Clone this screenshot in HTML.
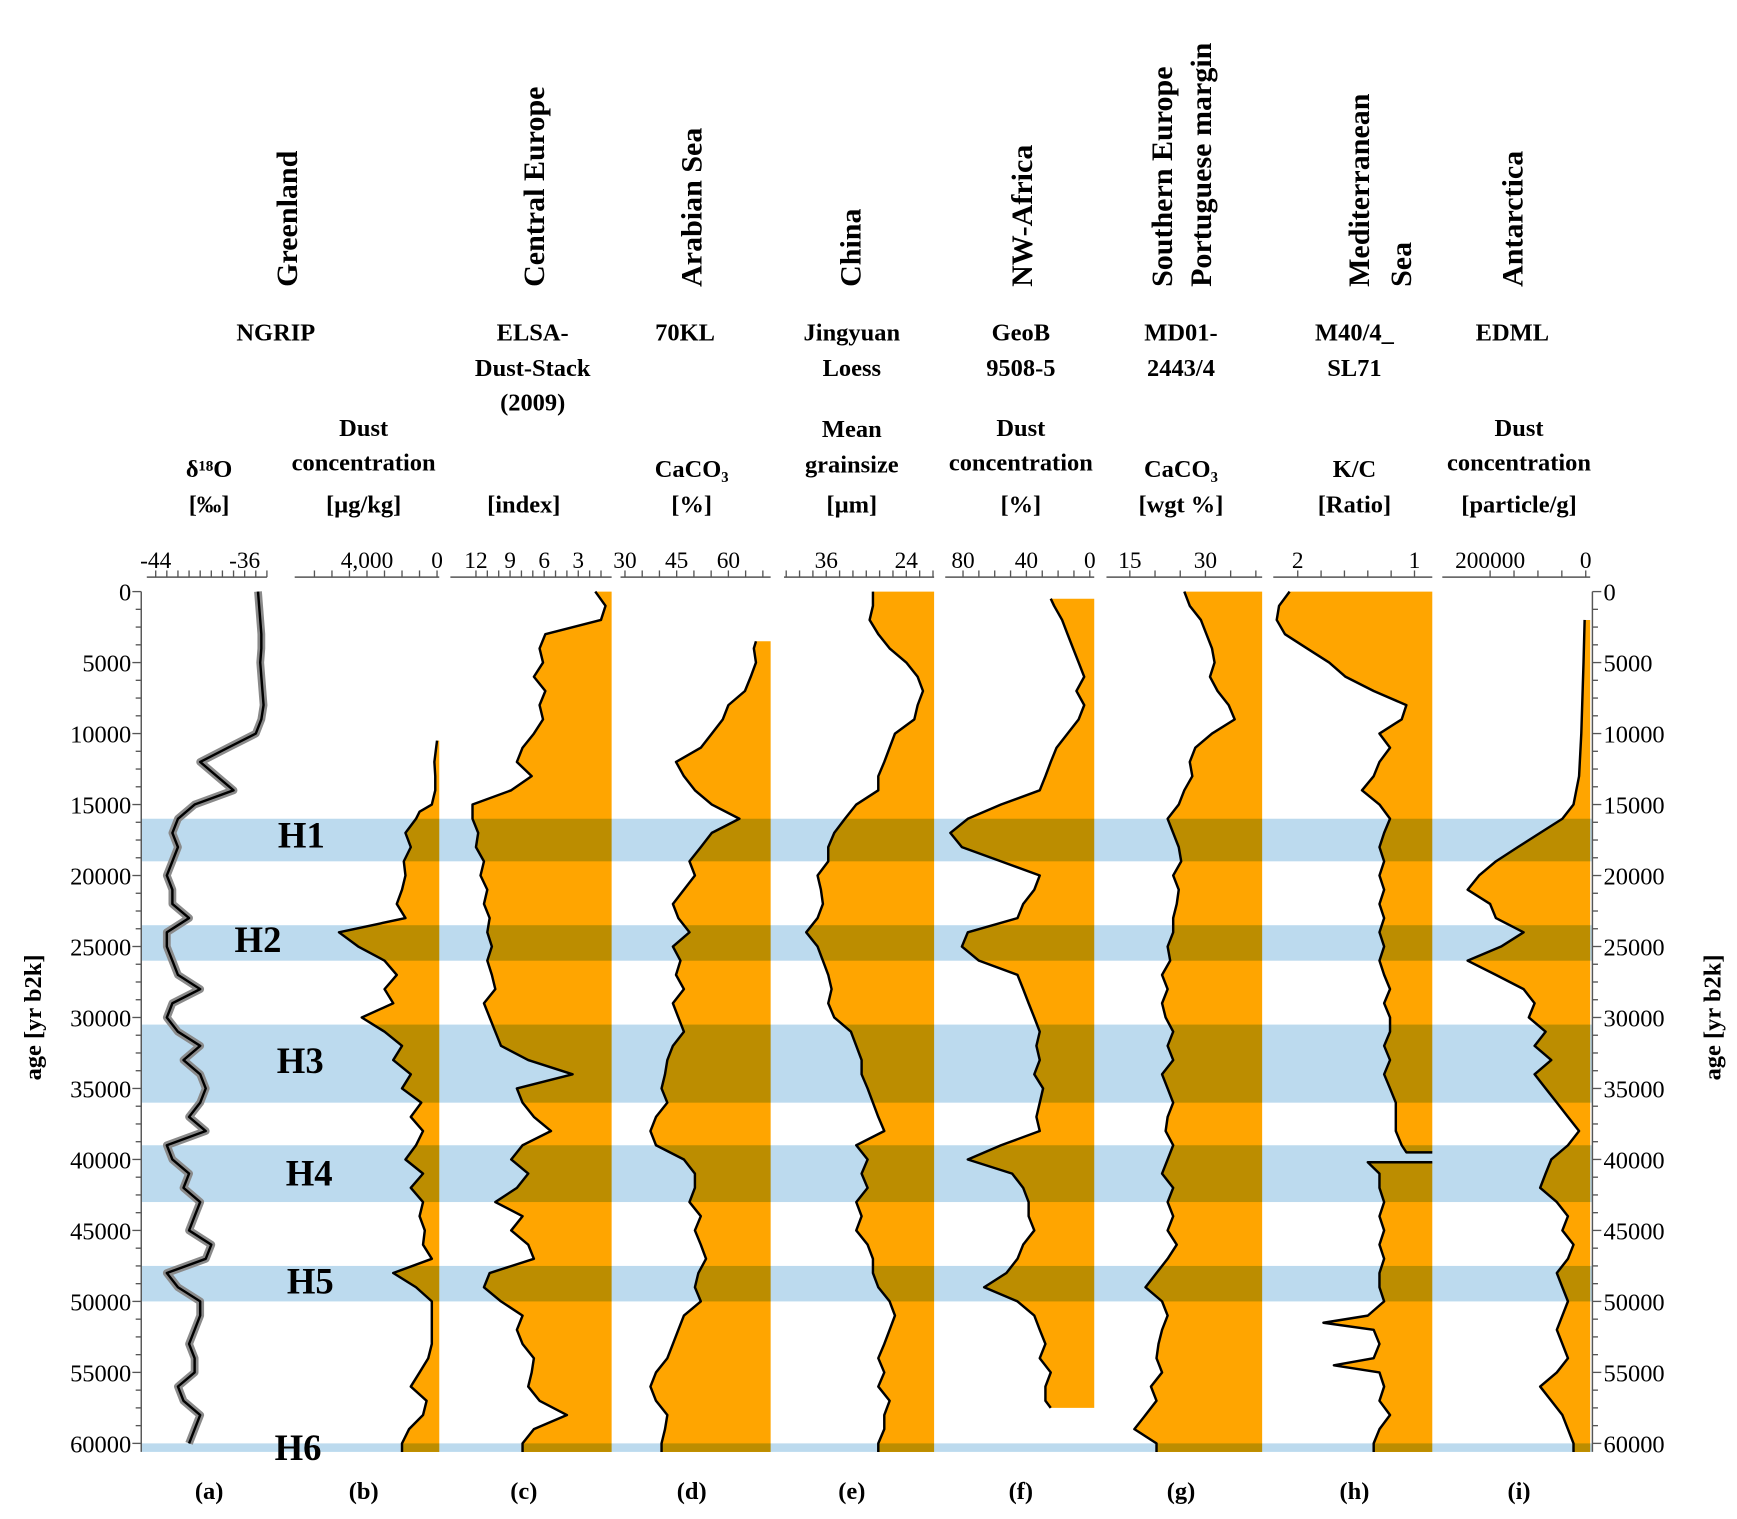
<!DOCTYPE html>
<html><head><meta charset="utf-8"><style>
html,body{margin:0;padding:0;background:#fff}
svg{display:block}
text{font-family:"Liberation Serif",serif;fill:#000}
</style></head><body>
<svg id="chart" width="1737" height="1519" viewBox="0 0 1562 1366" xmlns="http://www.w3.org/2000/svg">
<g id="fills"></g><g id="bandover" style="mix-blend-mode:multiply"></g><g id="lines"></g><g id="axes"></g><g id="labels"></g>
</svg>
<script>
const ages = [0,1000,2000,3000,4000,5000,6000,7000,8000,9000,10000,11000,12000,13000,14000,15000,16000,17000,18000,19000,20000,21000,22000,23000,24000,25000,26000,27000,28000,29000,30000,31000,32000,33000,34000,35000,36000,37000,38000,39000,40000,41000,42000,43000,44000,45000,46000,47000,48000,49000,50000,51000,52000,53000,54000,55000,56000,57000,58000,59000,60000];
const d18O = [-34.8,-34.7,-34.6,-34.5,-34.5,-34.6,-34.5,-34.4,-34.3,-34.5,-35,-37.5,-40,-38.5,-37,-40.5,-42,-42.5,-42,-42.5,-43,-42.5,-42.5,-41,-43,-43,-42.5,-42,-40,-42.5,-43,-42,-40,-41.5,-40,-39.5,-40,-41,-39.5,-43,-42.5,-41,-41.5,-40,-40.5,-41,-39,-39.5,-43,-42,-40,-40,-40.5,-41,-40.5,-40.5,-42,-41.5,-40,-40.5,-41];
const dustAges = [10500,11000,12000,13000,14000,15000,15500,16000,17000,18000,19000,20000,21000,22000,23000,24000,25000,26000,27000,28000,29000,30000,31000,32000,33000,34000,35000,36000,37000,38000,39000,40000,41000,42000,43000,44000,45000,46000,47000,48000,49000,50000,51000,52000,53000,54000,55000,56000,57000,58000,59000,60000];
const dustNGRIP = [0,50,150,100,100,300,1000,1200,1800,1500,1900,1800,2000,2300,1800,5600,4500,3000,2300,3000,2500,4300,3000,2000,2500,1500,2000,900,1500,800,1200,1800,800,1500,800,1000,700,800,300,2500,1200,300,300,300,300,500,1000,1500,600,800,1600,2000];
const elsaIndex = [1.5,0.6,1.0,5.9,6.4,6.1,6.9,5.9,6.4,6.1,6.9,7.9,8.4,7.1,8.9,12.3,12.3,11.8,12,11.3,11.6,11.0,11.3,10.8,11.0,10.6,11.0,10.6,10.3,11.3,10.8,10.3,9.8,7.4,3.5,8.4,7.9,6.9,5.4,7.9,8.9,7.4,8.4,10.3,7.9,8.9,7.4,6.9,10.8,11.3,9.8,7.9,8.4,7.9,6.9,7.1,7.4,6.4,4.0,6.9,7.9];
const caAges = [3500,4000,5000,6000,7000,8000,9000,10000,11000,12000,13000,14000,15000,16000,17000,18000,19000,20000,21000,22000,23000,24000,25000,26000,27000,28000,29000,30000,31000,32000,33000,34000,35000,36000,37000,38000,39000,40000,41000,42000,43000,44000,45000,46000,47000,48000,49000,50000,51000,52000,53000,54000,55000,56000,57000,58000,59000,60000];
const caco3Arabian = [68,67.4,68,66.5,64.8,60,58.4,55.2,52,44.8,47.1,50.3,55.2,63.2,55.2,52,48.7,50.3,47.1,43.9,45.5,48.7,43.9,46.1,44.8,47.1,43.9,45.5,47.1,43.9,42.3,41.6,40.6,42.3,39,37.4,39,47.1,50.3,50.3,48.7,52,50.3,52,53.5,51.3,50.3,52,47.1,45.5,43.9,42.3,39,37.4,39,42.3,41.6,40.6];
const grainsize = [29,29,29.5,28.2,26.5,24,22.3,21.5,22.3,22.8,25.7,26.5,27.3,28.2,28.2,31.5,33.2,34.8,35.7,35.7,37.3,36.8,36.5,37.3,39,37.3,36.5,35.7,35.2,35.7,34.8,32.3,31.5,30.7,30.7,29.8,29,28.2,27.3,31.5,29.8,30.7,29.8,31.5,30.7,31.5,29.8,29,29,28.2,26.5,25.7,26.5,27.3,28.2,27.3,28.2,26.5,27.3,27.3,28.2];
const africaAges = [500,1000,2000,3000,4000,5000,6000,7000,8000,9000,10000,11000,12000,13000,14000,15000,16000,17000,18000,19000,20000,21000,22000,23000,24000,25000,26000,27000,28000,29000,30000,31000,32000,33000,34000,35000,36000,37000,38000,39000,40000,41000,42000,43000,44000,45000,46000,47000,48000,49000,50000,51000,52000,53000,54000,55000,56000,57000,57500];
const dustAfrica = [24.6,22.5,17.5,14,10.5,7,3.5,8.4,3.5,7,14,21,24.6,28,31.6,56,77,88,80.7,56,31.6,35,42,45.6,77,80.7,70,45.6,42,38.6,35,31.6,33.7,31.6,35,29.5,31.6,33.7,31.6,56,77,49,42,38.6,38.6,35,42,45.6,52.6,66.7,45.6,35,31.6,28,31.6,24.6,28,28,24.6];
const caco3Portugal = [25.8,26.9,29.1,30.2,31.3,31.8,30.9,32.4,34.6,35.8,31.3,28,26.9,27.4,25.8,24.7,22.5,23.6,24.7,25.2,23.6,24.7,24.3,23.6,23.6,22.5,23,21.4,22.5,21.4,22.1,23.6,22.5,23.6,21.4,22.5,23.6,22.5,22.1,23.6,22.5,21.4,23.6,22.5,23.6,22.5,24.3,22.5,20.3,18.1,21.4,22.5,21.4,20.7,20.3,21.4,19.2,20.3,18.1,15.9,20.3];
const kcAges1 = [0,1000,2000,3000,4000,5000,6000,7000,8000,9000,10000,11000,12000,13000,14000,15000,16000,17000,18000,19000,20000,21000,22000,23000,24000,25000,26000,27000,28000,29000,30000,31000,32000,33000,34000,35000,36000,37000,38000,39000,39500];
const kcRatio1 = [2.07,2.16,2.18,2.11,1.92,1.73,1.59,1.35,1.07,1.11,1.3,1.21,1.3,1.35,1.45,1.3,1.21,1.26,1.3,1.26,1.3,1.26,1.3,1.26,1.3,1.26,1.3,1.26,1.21,1.26,1.21,1.21,1.26,1.21,1.26,1.21,1.16,1.16,1.16,1.11,1.07];
const kcAges2 = [40200,41000,42000,43000,44000,45000,46000,47000,48000,49000,50000,51000,51500,52000,53000,54000,54500,55000,56000,57000,58000,59000,60000];
const kcRatio2 = [1.4,1.3,1.3,1.26,1.3,1.26,1.3,1.26,1.3,1.3,1.26,1.4,1.78,1.35,1.3,1.35,1.69,1.3,1.26,1.3,1.21,1.3,1.35];
const edmlAges = [2000,5000,10000,13000,15000,16000,17000,18000,19000,20000,21000,22000,23000,24000,25000,26000,27000,28000,29000,30000,31000,32000,33000,34000,35000,36000,37000,38000,39000,40000,41000,42000,43000,44000,45000,46000,47000,48000,49000,50000,51000,52000,53000,54000,55000,56000,57000,58000,59000,60000];
const dustEDML = [2.3,4.7,9.3,14,25.6,48.8,95.4,142,188,223,247,200,188,130,177,247,188,130,107,119,84,107,72,107,84,60.5,37.2,14,37.2,72,84,95.4,60.5,37.2,48.8,25.6,37.2,60.5,48.8,37.2,48.8,60.5,48.8,37.2,60.5,95.4,72,48.8,37.2,25.6];
const bandStart = [16000,23500,30500,39000,47500,60000];
const bandEnd = [19000,26000,36000,43000,50000,60600];
const bandLabels = ["H1","H2","H3","H4","H5","H6"];
const ageTicks = [0,5000,10000,15000,20000,25000,30000,35000,40000,45000,50000,55000,60000];

const NS="http://www.w3.org/2000/svg";
const Y = a => 532 + a*766/60000;
const YB = Y(60600);
function lin(d0,r0,d1,r1){return v=>r0+(v-d0)*(r1-r0)/(d1-d0);}
function mk(tag,attrs,parent){const e=document.createElementNS(NS,tag);for(const k in attrs)e.setAttribute(k,attrs[k]);parent.appendChild(e);return e;}
const G=id=>document.getElementById(id);

bandStart.forEach((s,i)=>{
  const r2=mk('rect',{x:127,y:Y(s),width:1305,height:Y(bandEnd[i])-Y(s),fill:'#bcdaee'},G('bandover'));
  
  
});

const panels=[
 {n:'a',ag:ages,v:d18O,x:lin(-44,140,-36,220),R:null},
 {n:'b',ag:dustAges,v:dustNGRIP,x:lin(0,393,4000,330),R:395},
 {n:'c',ag:ages,v:elsaIndex,x:lin(12,428,3,520),R:550},
 {n:'d',ag:caAges,v:caco3Arabian,x:lin(30,562,60,655),R:693},
 {n:'e',ag:ages,v:grainsize,x:lin(36,743,24,815),R:840},
 {n:'f',ag:africaAges,v:dustAfrica,x:lin(80,866,0,980),R:984,noext:true},
 {n:'g',ag:ages,v:caco3Portugal,x:lin(15,1016,30,1084),R:1135},
 {n:'h',ag:kcAges1,v:kcRatio1,x:lin(2,1167,1,1272),R:1288,noext:true,closeEnd:true},
 {n:'h2',ag:kcAges2,v:kcRatio2,x:lin(2,1167,1,1272),R:1288,openStart:true},
 {n:'i',ag:edmlAges,v:dustEDML,x:lin(200,1340,0,1426),R:1430},
];
panels.forEach(p=>{
  let pts=p.ag.map((a,i)=>[p.x(p.v[i]),Y(a)]);
  if(!p.noext && p.R!==null){pts.push([pts[pts.length-1][0],YB]);}
  if(p.closeEnd){pts.push([p.R,pts[pts.length-1][1]]);}
  if(p.openStart){pts.unshift([p.R,pts[0][1]]);}
  const ps=pts.map(q=>q[0].toFixed(1)+','+q[1].toFixed(1)).join(' ');
  if(p.R!==null){
    const poly=[...pts,[p.R,pts[pts.length-1][1]],[p.R,pts[0][1]]];
    const f=mk('polygon',{points:poly.map(q=>q[0].toFixed(1)+','+q[1].toFixed(1)).join(' '),fill:'#ffa500'},G('fills'));
    
    
  } else {
    const g=mk('polyline',{points:ps,fill:'none',stroke:'#8a8a8a','stroke-width':7,'stroke-linejoin':'round'},G('lines'));
    
    
  }
  const l=mk('polyline',{points:ps,fill:'none',stroke:'#000','stroke-width':2.2,'stroke-linejoin':'round'},G('lines'));
  
  
});

const topAxes=[
 {n:'a',l:132,r:240,x:lin(-44,140,-36,220),maj:[-44,-36],lab:['-44','-36'],mn:[-44,-43,-42,-41,-40,-39,-38,-37,-36,-35,-34]},
 {n:'b',l:265,r:395,x:lin(0,393,4000,330),maj:[4000,0],lab:['4,000','0'],mn:[0,1000,2000,3000,4000,5000,6000,7000]},
 {n:'c',l:405,r:550,x:lin(12,428,3,520),maj:[12,9,6,3],lab:['12','9','6','3'],mn:[12,11,10,9,8,7,6,5,4,3,2,1]},
 {n:'d',l:558,r:693,x:lin(30,562,60,655),maj:[30,45,60],lab:['30','45','60'],mn:[30,35,40,45,50,55,60,65,70]},
 {n:'e',l:705,r:840,x:lin(36,743,24,815),maj:[36,24],lab:['36','24'],mn:[42,40,38,36,34,32,30,28,26,24,22,20]},
 {n:'f',l:850,r:984,x:lin(80,866,0,980),maj:[80,40,0],lab:['80','40','0'],mn:[80,70,60,50,40,30,20,10,0]},
 {n:'g',l:995,r:1135,x:lin(15,1016,30,1084),maj:[15,30],lab:['15','30'],mn:[15,20,25,30,35,40,45]},
 {n:'h',l:1145,r:1288,x:lin(2,1167,1,1272),maj:[2,1],lab:['2','1'],mn:[2,1.8,1.6,1.4,1.2,1]},
 {n:'i',l:1297,r:1430,x:lin(200,1340,0,1426),maj:[200,0],lab:['200000','0'],mn:[200,150,100,50,0]},
];
topAxes.forEach(t=>{
  const ax=mk('line',{x1:t.l,x2:t.r,y1:519,y2:519,stroke:'#555','stroke-width':1.3},G('axes'));
  
  
  t.mn.forEach(v=>{const x=t.x(v);if(x<t.l-1||x>t.r+1)return;mk('line',{x1:x,x2:x,y1:519,y2:513,stroke:'#555','stroke-width':1.2},G('axes'));});
  t.maj.forEach((v,i)=>{
    const tx=mk('text',{x:t.x(v),y:511,'text-anchor':'middle','font-size':21},G('axes'));
    tx.textContent=t.lab[i];
    
    
  });
});
[[127,-1],[1432,1]].forEach(([ax,dir],k)=>{
  const l=mk('line',{x1:ax,x2:ax,y1:532,y2:YB,stroke:'#555','stroke-width':1.3},G('axes'));
  
  
  for(let a=0;a<=60000;a+=1250){mk('line',{x1:ax,x2:ax+dir*(a%5000===0?8:5),y1:Y(a),y2:Y(a),stroke:'#555','stroke-width':1.2},G('axes'));}
  ageTicks.forEach(a=>{
    const t=mk('text',{x:k?1442:118,y:Y(a)+8,'text-anchor':k?'start':'end','font-size':22},G('axes'));
    t.textContent=a;
    
    
  });
});
bandStart.forEach((s,i)=>{
  const pos=[[271,762],[232,856],[270,965],[278,1066],[279,1163],[268,1313]][i];
  const t=mk('text',{x:pos[0],y:pos[1],'text-anchor':'middle','font-size':33,'font-weight':'bold'},G('labels'));
  t.textContent=bandLabels[i];
  
  
});
</script>
<svg style="position:absolute;left:0;top:0" width="1737" height="1519" viewBox="0 0 1562 1366">
<g font-weight="bold" font-size="27" font-family="Liberation Serif, serif">
<text transform="translate(267,258) rotate(-90)">Greenland</text>
<text transform="translate(489,258) rotate(-90)">Central Europe</text>
<text transform="translate(631,258) rotate(-90)">Arabian Sea</text>
<text transform="translate(774,258) rotate(-90)">China</text>
<text transform="translate(928,258) rotate(-90)">NW-Africa</text>
<text transform="translate(1054,258) rotate(-90)">Southern Europe</text>
<text transform="translate(1089,258) rotate(-90)">Portuguese margin</text>
<text transform="translate(1231,258) rotate(-90)">Mediterranean</text>
<text transform="translate(1269,258) rotate(-90)">Sea</text>
<text transform="translate(1369,258) rotate(-90)">Antarctica</text>
</g>
<g font-weight="bold" font-size="22" font-family="Liberation Serif, serif" text-anchor="middle">
<text x="248" y="306">NGRIP</text>
<text x="479" y="306">ELSA-</text>
<text x="479" y="338">Dust-Stack</text><text x="479" y="369">(2009)</text>
<text x="616" y="306">70KL</text>
<text x="766" y="306">Jingyuan</text><text x="766" y="338">Loess</text>
<text x="918" y="306">GeoB</text><text x="918" y="338">9508-5</text>
<text x="1062" y="306">MD01-</text><text x="1062" y="338">2443/4</text>
<text x="1218" y="306">M40/4_</text><text x="1218" y="338">SL71</text>
<text x="1360" y="306">EDML</text>
<text x="188" y="429">δ¹⁸O</text><text x="188" y="461">[‰]</text>
<text x="327" y="392">Dust</text><text x="327" y="423">concentration</text><text x="327" y="461">[µg/kg]</text>
<text x="471" y="461">[index]</text>
<text x="622" y="429">CaCO₃</text><text x="622" y="461">[%]</text>
<text x="766" y="393">Mean</text><text x="766" y="425">grainsize</text><text x="766" y="461">[µm]</text>
<text x="918" y="392">Dust</text><text x="918" y="423">concentration</text><text x="918" y="461">[%]</text>
<text x="1062" y="429">CaCO₃</text><text x="1062" y="461">[wgt %]</text>
<text x="1218" y="429">K/C</text><text x="1218" y="461">[Ratio]</text>
<text x="1366" y="392">Dust</text><text x="1366" y="423">concentration</text><text x="1366" y="461">[particle/g]</text>
<text x="188" y="1348">(a)</text>
<text x="327" y="1348">(b)</text>
<text x="471" y="1348">(c)</text>
<text x="622" y="1348">(d)</text>
<text x="766" y="1348">(e)</text>
<text x="918" y="1348">(f)</text>
<text x="1062" y="1348">(g)</text>
<text x="1218" y="1348">(h)</text>
<text x="1366" y="1348">(i)</text>
<text transform="translate(37,915) rotate(-90)">age [yr b2k]</text>
<text transform="translate(1547,915) rotate(-90)">age [yr b2k]</text>
</g>
</svg>
</body></html>
